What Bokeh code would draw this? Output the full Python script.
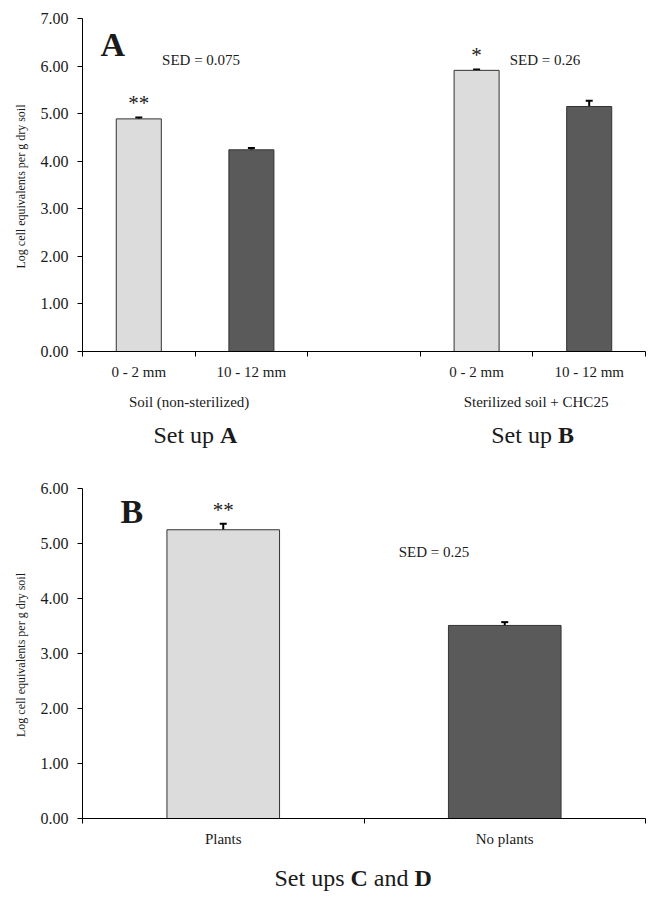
from bokeh.plotting import figure
from bokeh.models import (ColumnDataSource, FixedTicker, Whisker, TeeHead, Label,
                          NumeralTickFormatter, Range1d, CategoricalColorMapper)
from bokeh.layouts import column
from bokeh.embed import file_html
from bokeh.resources import INLINE

# ---------------- data ----------------
top_depths = ["0 - 2 mm", "10 - 12 mm", "0 - 2 mm", "10 - 12 mm"]
top_slots = [0, 1, 3, 4]            # slot 2 is an empty gap between set ups
top_values = [4.89, 4.24, 5.91, 5.15]
top_errors = [0.03, 0.04, 0.02, 0.12]
top_signif = ["**", "", "*", ""]
top_groups = ["Soil (non-sterilized)", "Sterilized  soil + CHC25"]
top_group_slots = [0.5, 3.5]
top_setups = ["A", "B"]
top_sed = ["SED = 0.075", "SED = 0.26"]

bottom_cats = ["Plants", "No plants"]
bottom_slots = [0, 1]
bottom_values = [5.25, 3.51]
bottom_errors = [0.11, 0.06]
bottom_signif = ["**", ""]
bottom_sed = "SED = 0.25"

y_label = "Log cell equivalents  per g dry soil"
top_ymax = 7
bottom_ymax = 6

# ---------------- style ----------------
FONT = "Liberation Serif"
LIGHT = "#dcdcdc"
DARK = "#5a5a5a"
EDGE = "#333333"
TXT = "#1a1a1a"
W = 648
LEFT = 82
RIGHT = 3


def style_axes(p, ymax, label_ticks, label_map, minor):
    p.outline_line_color = None
    p.xgrid.visible = False
    p.ygrid.visible = False
    ya = p.yaxis[0]
    ya.ticker = FixedTicker(ticks=list(range(0, ymax + 1)), minor_ticks=[])
    ya.formatter = NumeralTickFormatter(format="0.00")
    ya.major_label_text_font = FONT
    ya.major_label_text_font_size = "16px"
    ya.major_label_text_color = TXT
    ya.major_tick_out = 5
    ya.major_tick_in = 0
    ya.minor_tick_out = 0
    ya.minor_tick_in = 0
    ya.major_label_standoff = 9
    ya.axis_line_color = "black"
    ya.major_tick_line_color = "black"
    ya.axis_label = y_label
    ya.axis_label_text_font = FONT
    ya.axis_label_text_font_style = "normal"
    ya.axis_label_text_font_size = "12px"
    ya.axis_label_text_color = TXT
    ya.axis_label_standoff = 10
    xa = p.xaxis[0]
    xa.ticker = FixedTicker(ticks=label_ticks, minor_ticks=minor)
    xa.major_label_overrides = label_map
    xa.major_tick_out = 0
    xa.major_tick_in = 0
    xa.minor_tick_out = 5
    xa.minor_tick_in = 0
    xa.minor_tick_line_color = "black"
    xa.axis_line_color = "black"
    xa.major_label_text_font = FONT
    xa.major_label_text_font_size = "15px"
    xa.major_label_text_color = TXT
    xa.major_label_standoff = 7


def add_bars(p, slots, values, errors, depths, signif):
    src = ColumnDataSource(dict(
        x=slots, top=values, depth=depths,
        upper=[v + e for v, e in zip(values, errors)],
        lower=[v - e for v, e in zip(values, errors)],
    ))
    cmap = CategoricalColorMapper(factors=list(dict.fromkeys(depths)), palette=[LIGHT, DARK])
    p.vbar(x="x", top="top", width=0.4, source=src,
           fill_color={"field": "depth", "transform": cmap},
           line_color=EDGE, line_width=1)
    p.add_layout(Whisker(source=src, base="x", upper="upper", lower="lower",
                         line_color="black", line_width=2,
                         upper_head=TeeHead(size=7, line_width=2, line_color="black"),
                         lower_head=TeeHead(size=7, line_width=2, line_color="black")))
    for x, v, e, s in zip(slots, values, errors, signif):
        if s:
            p.add_layout(Label(x=x, y=v + e, text=s, y_offset=2,
                               text_align="center", text_baseline="bottom",
                               text_font=FONT, text_font_size="21px", text_color=TXT))


def lab(p, x, y, text, size, bold=False, align="center", xo=0, yo=0):
    p.add_layout(Label(x=x, y=y, text=text, x_offset=xo, y_offset=yo,
                       text_align=align, text_baseline="middle",
                       text_font=FONT, text_font_size=size,
                       text_font_style="bold" if bold else "normal",
                       text_color=TXT))


def strip(x_range, height):
    s = figure(width=W, height=height, x_range=x_range, y_range=Range1d(0, height),
               output_backend="svg", toolbar_location=None,
               x_axis_location=None, y_axis_location=None,
               min_border_left=LEFT, min_border_right=RIGHT, min_border_top=0, min_border_bottom=0)
    s.outline_line_color = None
    s.xgrid.visible = False
    s.ygrid.visible = False
    return s


# ---------------- top panel ----------------
p1 = figure(width=W, height=391, x_range=Range1d(-0.5, 4.5), y_range=Range1d(0, top_ymax),
            output_backend="svg", toolbar_location=None,
            min_border_left=LEFT, min_border_right=RIGHT, min_border_top=18, min_border_bottom=40)
style_axes(p1, top_ymax, top_slots, dict(zip(top_slots, top_depths)),
           [s - 0.5 for s in range(0, 6)])
add_bars(p1, top_slots, top_values, top_errors, top_depths, top_signif)

lab(p1, -0.5, 6.45, "A", "34px", bold=True, align="left", xo=18)
for gx, sed in zip(top_group_slots, top_sed):
    lab(p1, gx, 6.12, sed, "15px", xo=6 if gx < 1 else 12)

s1 = strip(p1.x_range, 64)
for gx, g, s in zip(top_group_slots, top_groups, top_setups):
    lab(s1, gx, 54, g, "15px", xo=-6 if gx < 1 else 5)
    lab(s1, gx, 21, "Set up", "24px", align="right", xo=19)
    lab(s1, gx, 21, s, "24px", bold=True, align="left", xo=25)

# ---------------- bottom panel ----------------
p2 = figure(width=W, height=403, x_range=Range1d(-0.5, 1.5), y_range=Range1d(0, bottom_ymax),
            output_backend="svg", toolbar_location=None,
            min_border_left=LEFT, min_border_right=RIGHT, min_border_top=33, min_border_bottom=40)
style_axes(p2, bottom_ymax, bottom_slots, dict(zip(bottom_slots, bottom_cats)), [-0.5, 0.5, 1.5])
add_bars(p2, bottom_slots, bottom_values, bottom_errors, bottom_cats, bottom_signif)

lab(p2, -0.5, 5.58, "B", "34px", bold=True, align="left", xo=38)
lab(p2, 0.5, 4.85, bottom_sed, "15px", xo=70)

s2 = strip(p2.x_range, 40)
lab(s2, 0.5, 21, "Set ups", "24px", align="right", xo=-19.5)
lab(s2, 0.5, 21, "C", "24px", bold=True, align="left", xo=-13.5)
lab(s2, 0.5, 21, "and", "24px", align="left", xo=9.8)
lab(s2, 0.5, 21, "D", "24px", bold=True, align="left", xo=50.5)

layout = column(p1, s1, p2, s2, spacing=0)
open("out.html", "w").write(file_html(layout, INLINE))
